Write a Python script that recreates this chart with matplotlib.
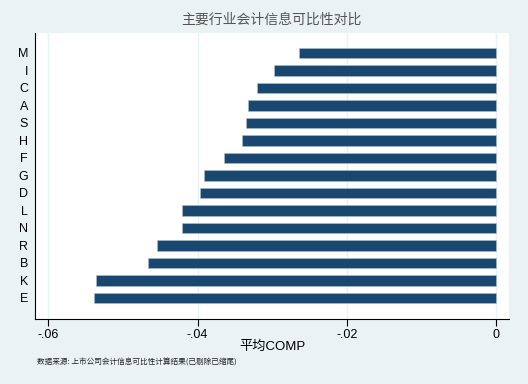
import matplotlib
matplotlib.use("Agg")
import matplotlib.pyplot as plt

plt.rcParams['font.family'] = ['Liberation Sans', 'Noto Sans CJK SC', 'DejaVu Sans']

# industries, top to bottom
industries = ['M', 'I', 'C', 'A', 'S', 'H', 'F', 'G', 'D', 'L', 'N', 'R', 'B', 'K', 'E']
comp = [-0.0264, -0.0298, -0.0320, -0.0333, -0.0335, -0.0341, -0.0365, -0.0391,
        -0.0397, -0.0421, -0.0421, -0.0455, -0.0467, -0.0536, -0.0539]
xticks = [-0.06, -0.04, -0.02, 0]
xtick_labels = ['-.06', '-.04', '-.02', '0']

bg = '#eaf2f3'
navy = '#1a476f'

fig = plt.figure(figsize=(5.28, 3.84), dpi=100, facecolor=bg)
ax = fig.add_axes([35/528, 1 - 319/384, (509-35)/528, (319-33)/384])
ax.set_facecolor('white')

ypos = list(range(len(industries) - 1, -1, -1))
ax.barh(ypos, comp, height=0.59, color=navy, edgecolor='#a9c0d6', linewidth=0.4, zorder=3)

ax.set_xlim(-0.06178, 0.0017)
ax.set_ylim(-1.2, len(industries) - 1 + 1.14)
ax.set_yticks(ypos)
ax.set_yticklabels(industries, fontsize=9)
ax.tick_params(axis='y', length=0, pad=5)
ax.set_xticks(xticks)
ax.set_xticklabels(xtick_labels, fontsize=9)
ax.tick_params(axis='x', length=5, width=0.8, pad=2)
ax.grid(axis='x', color=bg, linewidth=1.0, zorder=0)

for s in ['top', 'right']:
    ax.spines[s].set_visible(False)
for s in ['left', 'bottom']:
    ax.spines[s].set_linewidth(0.8)

ax.set_xlabel('平均COMP', fontsize=9.5, labelpad=0)

fig.text(0.515, 1 - 20/384, '主要行业会计信息可比性对比', ha='center', va='center',
         fontsize=10, color='#555555', fontweight='light', family=['Noto Sans CJK SC'])
fig.text(37/528, 1 - 363/384, '数据来源: 上市公司会计信息可比性计算结果(已剔除已缩尾)',
         ha='left', va='center', fontsize=5.5, color='#222222',
         family=['Noto Sans CJK SC', 'DejaVu Sans'])

fig.savefig('out.png', dpi=100, facecolor=bg)
